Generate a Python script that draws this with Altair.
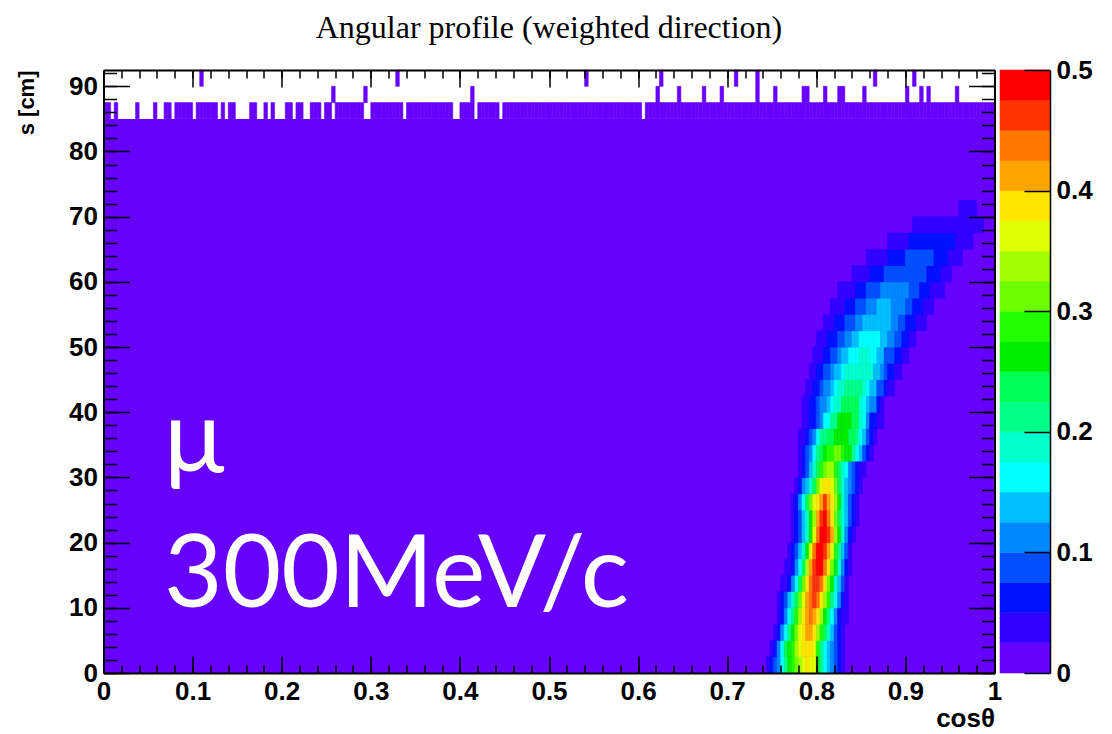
import altair as alt
import pandas as pd

# ---------------- data ----------------
N_XBINS = 250          # cosθ bins over [0, 1]
Y_BIN = 2.5            # s bin width [cm]
Y_MAX = 92.5
BG_TOP = 85.0          # rows below this are filled everywhere (lowest colour band)
BG_VALUE = 0.01

PALETTE = ["#6600FF", "#3300FF", "#0011FF", "#0050FF", "#0088FF", "#00BFFF",
           "#00FFFF", "#00FFCC", "#00FF88", "#00FF55", "#00EE00", "#22FF00",
           "#6BFF00", "#A0FF00", "#E0FF00", "#FFE600", "#FFA500", "#FF7700",
           "#FF3300", "#FF0000"]
Z_MAX = 0.5

# ridge: per s-row (2.5 cm each, from s=0), first cosθ bin and colour band of each bin
RIDGE_START = [186, 187, 188, 189, 189, 190, 191, 192, 193, 193, 193, 194, 195, 195, 195,
               196, 196, 197, 198, 199, 200, 202, 204, 206, 210, 214, 220, 227, 240]
RIDGE_LEVELS = [
    [1, 2, 3, 4, 6, 8, 10, 11, 12, 13, 14, 15, 14, 14, 10, 8, 6, 5, 4, 3, 2, 1],
    [1, 2, 4, 6, 9, 10, 11, 13, 14, 15, 15, 15, 14, 11, 8, 6, 5, 4, 3, 2, 1],
    [1, 2, 4, 6, 8, 10, 12, 14, 15, 16, 16, 15, 13, 11, 9, 7, 5, 3, 2, 1],
    [1, 2, 4, 6, 8, 11, 13, 15, 16, 17, 16, 15, 13, 10, 8, 6, 4, 2, 1, 1],
    [1, 2, 3, 5, 7, 9, 12, 14, 16, 17, 18, 17, 15, 13, 11, 8, 6, 4, 2, 1],
    [1, 1, 2, 4, 6, 9, 12, 15, 17, 18, 18, 17, 15, 12, 10, 7, 5, 3, 1],
    [1, 1, 2, 4, 6, 9, 13, 16, 18, 19, 19, 17, 15, 12, 10, 7, 4, 2, 1],
    [1, 2, 3, 5, 7, 10, 14, 17, 19, 19, 18, 16, 14, 11, 8, 5, 3, 1],
    [1, 2, 3, 5, 7, 10, 14, 17, 19, 19, 18, 16, 13, 10, 7, 4, 2, 1],
    [1, 2, 3, 5, 7, 10, 13, 16, 18, 19, 17, 15, 12, 9, 7, 5, 3, 2, 1],
    [1, 2, 4, 6, 9, 12, 14, 15, 16, 18, 16, 15, 13, 10, 7, 5, 3, 2, 1],
    [1, 2, 4, 5, 7, 9, 12, 14, 15, 15, 14, 12, 9, 7, 5, 4, 3, 2, 1],
    [1, 2, 3, 5, 7, 9, 11, 12, 13, 13, 11, 9, 7, 6, 4, 3, 2, 1, 1],
    [1, 2, 3, 4, 6, 8, 9, 10, 11, 11, 12, 12, 11, 10, 10, 8, 6, 5, 3, 2, 1],
    [1, 1, 2, 3, 4, 6, 8, 8, 9, 9, 10, 10, 10, 10, 9, 9, 8, 6, 5, 3, 2, 1],
    [1, 1, 2, 2, 3, 4, 6, 6, 8, 8, 10, 10, 10, 10, 9, 9, 7, 6, 4, 2, 2, 1, 1],
    [1, 1, 2, 2, 3, 4, 4, 5, 6, 7, 7, 9, 9, 9, 9, 9, 7, 6, 5, 4, 4, 2, 1],
    [1, 1, 2, 2, 3, 4, 4, 5, 6, 7, 7, 8, 8, 8, 8, 8, 7, 6, 5, 5, 3, 3, 2, 1, 1],
    [1, 1, 2, 2, 3, 3, 4, 5, 5, 6, 7, 7, 7, 7, 7, 7, 7, 7, 5, 5, 4, 3, 2, 2, 1, 1],
    [1, 1, 1, 2, 2, 3, 3, 4, 5, 5, 6, 6, 6, 7, 7, 7, 6, 6, 5, 5, 3, 3, 3, 2, 2, 1, 1],
    [1, 1, 1, 2, 2, 2, 3, 3, 4, 4, 5, 5, 6, 6, 6, 6, 6, 6, 5, 5, 4, 4, 3, 3, 2, 2, 1, 1],
    [1, 1, 1, 2, 2, 2, 3, 3, 3, 4, 4, 5, 5, 5, 5, 5, 5, 5, 5, 4, 4, 3, 3, 2, 2, 2, 1, 1, 1],
    [1, 1, 1, 1, 2, 2, 2, 3, 3, 3, 4, 4, 4, 5, 5, 5, 5, 4, 4, 4, 4, 3, 3, 2, 2, 2, 1, 1, 1],
    [1, 1, 1, 1, 1, 2, 2, 2, 3, 3, 3, 3, 4, 4, 4, 4, 4, 4, 4, 4, 3, 3, 3, 2, 2, 2, 1, 1, 1, 1],
    [1, 1, 1, 1, 1, 2, 2, 2, 2, 3, 3, 3, 3, 3, 3, 3, 3, 3, 3, 3, 3, 2, 2, 2, 2, 1, 1, 1],
    [1, 1, 1, 1, 1, 1, 2, 2, 2, 2, 2, 3, 3, 3, 3, 3, 3, 3, 3, 2, 2, 2, 2, 1, 1, 1, 1],
    [1, 1, 1, 1, 1, 1, 2, 2, 2, 2, 2, 2, 2, 2, 2, 2, 2, 2, 2, 1, 1, 1, 1, 1],
    [1, 1, 1, 1, 1, 1, 1, 1, 1, 1, 1, 1, 1, 1, 1, 1, 1, 1, 1, 1],
    [1, 1, 1, 1, 1],
]

# top rows: row 85-87.5 is filled except these bins; rows above only these bins are filled
ROW_85_EMPTY = [2, 4, 5, 6, 7, 8, 10, 11, 12, 13, 15, 16, 19, 25, 32, 34, 37, 38, 39, 40,
                43, 44, 46, 48, 49, 50, 53, 56, 57, 61, 64, 73, 74, 84, 98, 99, 104, 111, 151]
ROW_875_FILLED = [64, 73, 103, 155, 161, 168, 173, 183, 188, 196, 197, 202, 206, 207,
                  213, 225, 229, 231, 239]
ROW_90_FILLED = [27, 82, 135, 156, 177, 183, 216, 227]

X_MAJOR = [0, 0.1, 0.2, 0.3, 0.4, 0.5, 0.6, 0.7, 0.8, 0.9, 1]
X_MINOR = [i / 50 for i in range(51)]
Y_MAJOR = [0, 10, 20, 30, 40, 50, 60, 70, 80, 90]
Y_MINOR = [i * 2 for i in range(47)]
Z_MAJOR = [0, 0.1, 0.2, 0.3, 0.4, 0.5]

LABEL_TEXT = ["μ", "300MeV/c"]
LABEL_X = [0.068, 0.068]
LABEL_Y = [30.8, 10.2]

# ---------------- build tables ----------------
dx = 1.0 / N_XBINS
band = Z_MAX / len(PALETTE)
rows = []
for k, (start, levels) in enumerate(zip(RIDGE_START, RIDGE_LEVELS)):
    for j, lev in enumerate(levels):
        c = start + j
        rows.append(dict(x=c * dx, x2=(c + 1) * dx, y=k * Y_BIN, y2=(k + 1) * Y_BIN,
                         z=(lev + 0.5) * band))
for c in range(N_XBINS):
    if c not in ROW_85_EMPTY:
        rows.append(dict(x=c * dx, x2=(c + 1) * dx, y=85.0, y2=87.5, z=BG_VALUE))
for c in ROW_875_FILLED:
    rows.append(dict(x=c * dx, x2=(c + 1) * dx, y=87.5, y2=90.0, z=BG_VALUE))
for c in ROW_90_FILLED:
    rows.append(dict(x=c * dx, x2=(c + 1) * dx, y=90.0, y2=92.5, z=BG_VALUE))
cells = pd.DataFrame(rows)
bg = pd.DataFrame([dict(x=0.0, x2=1.0, y=0.0, y2=BG_TOP, z=BG_VALUE)])
labels = pd.DataFrame(dict(t=LABEL_TEXT, x=LABEL_X, y=LABEL_Y))
cbar = pd.DataFrame(dict(lo=[i * band for i in range(len(PALETTE))],
                         hi=[(i + 1) * band for i in range(len(PALETTE))],
                         z=[(i + 0.5) * band for i in range(len(PALETTE))]))
carrier = pd.DataFrame(dict(x=[0.0, 1.0], y=[0.0, Y_MAX], v=[0.0, Z_MAX]))

# ---------------- scales ----------------
W, H = 891, 603
xs = alt.Scale(domain=[0, 1], nice=False, zero=False)
def ys():
    return alt.Scale(domain=[0, Y_MAX], nice=False, zero=False)
def zs():
    return alt.Scale(domain=[0, Z_MAX], nice=False, zero=False)
def cs():
    return alt.Scale(type="quantize", domain=[0, Z_MAX], range=PALETTE)

LBL = dict(labelFont="Liberation Sans", labelFontWeight="bold", labelFontSize=26,
           labelColor="black", tickColor="black", tickWidth=1.5, grid=False, zindex=2)
NOLBL = dict(labels=False, domain=False, grid=False, tickColor="black", tickWidth=1.5,
             title=None, zindex=2)

background = alt.Chart(bg).mark_rect().encode(
    x=alt.X("x:Q", scale=xs, axis=None), x2="x2:Q",
    y=alt.Y("y:Q", scale=ys(), axis=None), y2="y2:Q",
    color=alt.Color("z:Q", scale=cs(), legend=None),
)

heat = alt.Chart(cells).mark_rect(strokeWidth=0.6).encode(
    x=alt.X("x:Q", scale=xs, axis=None), x2="x2:Q",
    y=alt.Y("y:Q", scale=ys(), axis=None), y2="y2:Q",
    color=alt.Color("z:Q", scale=cs(), legend=None),
    stroke=alt.Stroke("z:Q", scale=cs(), legend=None),
)

text = alt.Chart(labels).mark_text(font="Lato", fontSize=101, color="white",
                                   align="left", baseline="alphabetic").encode(
    x=alt.X("x:Q", scale=xs, axis=None),
    y=alt.Y("y:Q", scale=ys(), axis=None),
    text="t:N",
)

colorbar = alt.Chart(cbar).mark_rect(strokeWidth=0.6).encode(
    x=alt.value(W + 5.5), x2=alt.value(W + 55.5),
    y=alt.Y("lo:Q", scale=zs(), axis=alt.Axis(
        orient="right", offset=29.5, tickSize=26, values=Z_MAJOR, format="~g",
        domain=False, labelPadding=6, title=None, labelOverlap=False, **LBL)),
    y2="hi:Q",
    color=alt.Color("z:Q", scale=cs(), legend=None),
    stroke=alt.Stroke("z:Q", scale=cs(), legend=None),
)

def carrier_layer(xaxis, yaxis, yfield="y", yscale=None):
    return alt.Chart(carrier).mark_point(opacity=0, size=1).encode(
        x=alt.X("x:Q", scale=xs, axis=xaxis),
        y=alt.Y(f"{yfield}:Q", scale=yscale if yscale is not None else ys(), axis=yaxis),
    )

c1 = carrier_layer(
    alt.Axis(orient="bottom", offset=-17, tickSize=17, values=X_MAJOR, format="~g",
             labelPadding=5, labelFlush=False, labelOverlap=False, domain=False,
             title="cosθ", titleAnchor="end", titleFont="Liberation Sans",
             titleFontWeight="bold", titleFontSize=26, titleColor="black", titlePadding=1,
             **LBL),
    alt.Axis(orient="left", offset=-26, tickSize=26, values=Y_MAJOR, format="d",
             labelPadding=6, labelOverlap=False, domain=False,
             title="s [cm]", titleAnchor="end", titleFont="Liberation Sans",
             titleFontWeight="bold", titleFontSize=22, titleColor="black", titlePadding=30,
             **LBL),
)
c2 = carrier_layer(
    alt.Axis(orient="bottom", offset=-8, tickSize=8, values=X_MINOR, **NOLBL),
    alt.Axis(orient="left", offset=-13, tickSize=13, values=Y_MINOR, **NOLBL),
)
c3 = carrier_layer(
    alt.Axis(orient="top", offset=-17, tickSize=17, values=X_MAJOR, **NOLBL),
    alt.Axis(orient="right", offset=-26, tickSize=26, values=Y_MAJOR, **NOLBL),
)
c4 = carrier_layer(
    alt.Axis(orient="top", offset=-8, tickSize=8, values=X_MINOR, **NOLBL),
    alt.Axis(orient="right", offset=-13, tickSize=13, values=Y_MINOR, **NOLBL),
)
FRAME = dict(labels=False, ticks=False, grid=False, domain=True, domainColor="black",
             domainWidth=2, title=None, zindex=3)
c5 = carrier_layer(alt.Axis(orient="bottom", offset=0, **FRAME),
                   alt.Axis(orient="left", offset=0, **FRAME))
c6 = carrier_layer(alt.Axis(orient="top", offset=0, **FRAME),
                   alt.Axis(orient="right", offset=0, **FRAME))
c7 = carrier_layer(None,
                   alt.Axis(orient="right", offset=55.5, labels=False, ticks=False,
                            grid=False, domain=True, domainColor="black", domainWidth=1.5,
                            title=None, zindex=3),
                   yfield="v", yscale=zs())

chart = alt.layer(background, heat, text, colorbar, c1, c2, c3, c4, c5, c6, c7).resolve_scale(
    y="independent"
).resolve_axis(
    x="independent", y="independent"
).properties(
    width=W, height=H,
    autosize=alt.AutoSizeParams(type="none"),
    padding={"left": 103.5, "top": 70, "right": 117.5, "bottom": 61},
    title=alt.TitleParams("Angular profile (weighted direction)", font="Liberation Serif",
                          fontSize=32, fontWeight="normal", color="black", anchor="middle",
                          frame="group", baseline="alphabetic", offset=-13),
).configure_view(stroke=None).configure(background="white")

chart.save("out.html", embed_options={"renderer": "svg", "actions": False})
